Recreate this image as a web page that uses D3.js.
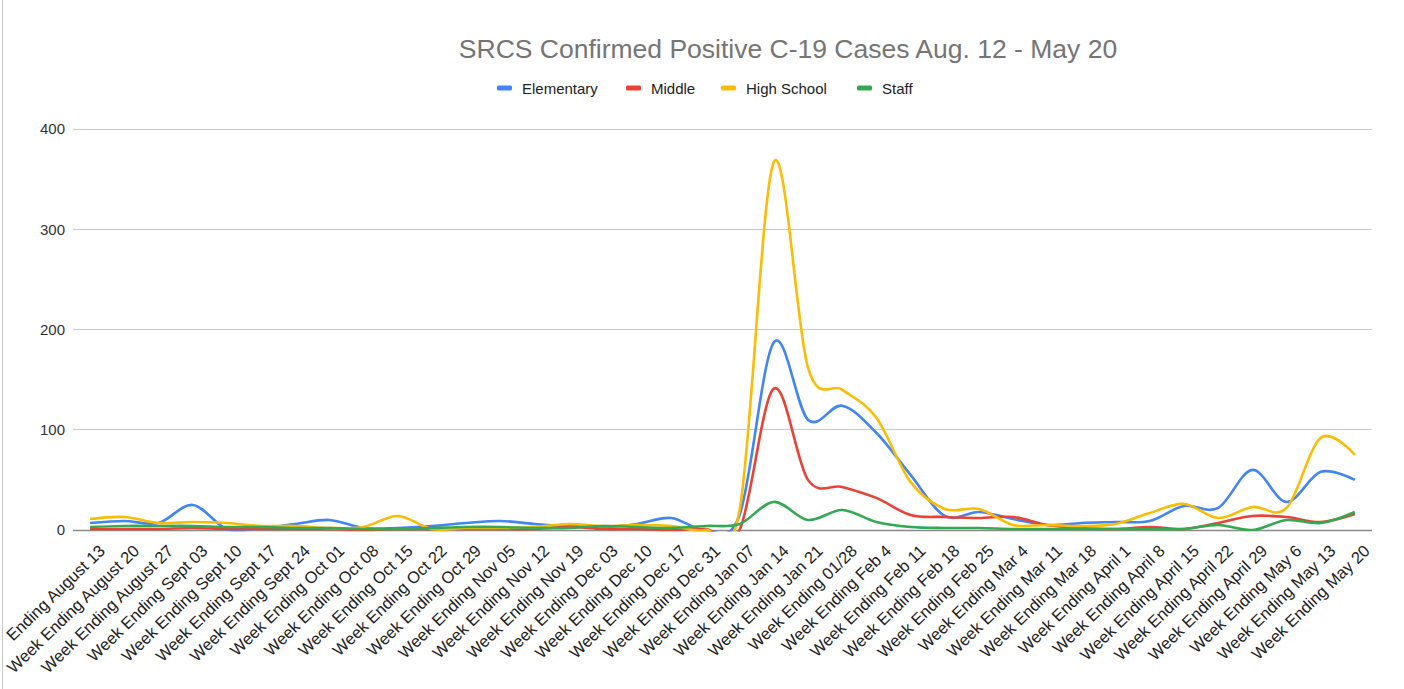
<!DOCTYPE html>
<head>
  <meta charset="utf-8">
  <script src="https://d3js.org/d3.v7.min.js"></script>
  <style>
body { margin:0; background:#fff; }
text { font-family: "Liberation Sans", Arial, sans-serif; }
.title { font-size: 26.5px; fill: #757575; }
.legend text { font-size: 15px; fill: #222; }
.ytick { font-size: 15px; fill: #333; }
.xtick { font-size: 16.5px; fill: #222; }
.grid { stroke: #ccc; stroke-width: 1; shape-rendering: crispEdges; }
.series { fill: none; stroke-width: 2.6; stroke-linejoin: round; }
  </style>
</head>
<body>
<script>
const weeks = ['Ending August 13', 'Week Ending August 20', 'Week Ending August 27', 'Week Ending Sept 03',
  'Week Ending Sept 10', 'Week Ending Sept 17', 'Week Ending Sept 24', 'Week Ending Oct 01',
  'Week Ending Oct 08', 'Week Ending Oct 15', 'Week Ending Oct 22', 'Week Ending Oct 29',
  'Week Ending Nov 05', 'Week Ending Nov 12', 'Week Ending Nov 19', 'Week Ending Dec 03',
  'Week Ending Dec 10', 'Week Ending Dec 17', 'Week Ending Dec 31', 'Week Ending Jan 07',
  'Week Ending Jan 14', 'Week Ending Jan 21', 'Week Ending 01/28', 'Week Ending Feb 4',
  'Week Ending Feb 11', 'Week Ending Feb 18', 'Week Ending Feb 25', 'Week Ending Mar 4',
  'Week Ending Mar 11', 'Week Ending Mar 18', 'Week Ending April 1', 'Week Ending April 8',
  'Week Ending April 15', 'Week Ending April 22', 'Week Ending April 29', 'Week Ending May 6',
  'Week Ending May 13', 'Week Ending May 20']

const elementary = [7, 9, 7, 25, 1, 2, 6, 10, 2, 2, 4, 7, 9, 6, 4, 3, 6, 12, 0, 15,
  187, 110, 124, 97, 55, 14, 18, 11, 5, 7, 8, 9, 24, 22, 60, 28, 58, 50]
const middle = [1, 1, 1, 2, 1, 1, 1, 1, 0, 1, 1, 1, 1, 1, 3, 1, 1, 0, 1, 0,
  141, 50, 43, 32, 15, 13, 12, 13, 5, 2, 1, 3, 1, 7, 14, 13, 8, 16]
const highSchool = [11, 13, 7, 8, 7, 4, 4, 2, 3, 14, 1, 2, 2, 3, 6, 4, 5, 4, 0, 20,
  367, 162, 140, 112, 48, 21, 21, 5, 5, 4, 6, 17, 26, 12, 23, 22, 92, 75]
const staff = [3, 4, 4, 4, 3, 3, 2, 2, 1, 1, 2, 3, 3, 2, 2, 4, 3, 2, 4, 6,
  28, 10, 20, 8, 3, 2, 2, 1, 1, 1, 1, 1, 1, 5, 0, 10, 7, 18]

const seriesNames = ['Elementary', 'Middle', 'High School', 'Staff']
const seriesColors = ['#4285f4', '#ea4335', '#fbbc04', '#34a853']
const seriesValues = [elementary, middle, highSchool, staff]
const yTicks = [0, 100, 200, 300, 400]

const fullWidth = 1404
const fullHeight = 689
const margin = { top: 129, right: 32, bottom: 159, left: 73 }
const width = fullWidth - margin.left - margin.right
const height = fullHeight - margin.top - margin.bottom

const svg = d3.select('body').append('svg')
  .attr('width', fullWidth)
  .attr('height', fullHeight)

// thin frame line on the left edge of the screenshot
svg.append('line')
  .attr('x1', 2.5).attr('x2', 2.5).attr('y1', 0).attr('y2', fullHeight)
  .attr('stroke', '#c8c8c8')

svg.append('text')
  .attr('class', 'title')
  .attr('x', 788)
  .attr('y', 58)
  .attr('text-anchor', 'middle')
  .text('SRCS Confirmed Positive C-19 Cases Aug. 12 - May 20')

const legend = svg.append('g').attr('class', 'legend')
const legendX = [497, 626, 721, 857]
seriesNames.forEach((name, i) => {
  const item = legend.append('g').attr('transform', `translate(${legendX[i]},88)`)
  item.append('rect').attr('x', 0).attr('y', -2.5).attr('width', 15).attr('height', 5)
    .attr('rx', 1.5).attr('fill', seriesColors[i])
  item.append('text').attr('x', 25).attr('y', 5.5).text(name)
})

const g = svg.append('g').attr('transform', `translate(${margin.left},${margin.top})`)

const x = d3.scalePoint().domain(weeks).range([0, width]).padding(0.5)
const y = d3.scaleLinear().domain([0, 400]).range([height, 0])

g.selectAll('.grid').data(yTicks.filter(d => d > 0)).enter().append('line')
  .attr('class', 'grid')
  .attr('x1', 0).attr('x2', width)
  .attr('y1', d => y(d)).attr('y2', d => y(d))

g.selectAll('.ytick').data(yTicks).enter().append('text')
  .attr('class', 'ytick')
  .attr('x', -8)
  .attr('y', d => y(d))
  .attr('dy', '0.36em')
  .attr('text-anchor', 'end')
  .text(d => d)

g.append('clipPath').attr('id', 'plot')
  .append('rect').attr('x', -5).attr('y', -5).attr('width', width + 10).attr('height', height + 6.5)

const line = d3.line()
  .x((d, i) => x(weeks[i]))
  .y(d => y(d))
  .curve(d3.curveCardinal.tension(0))

g.append('line')
  .attr('x1', 0).attr('x2', width)
  .attr('y1', height + 0.5).attr('y2', height + 0.5)
  .attr('stroke', '#8a8a8a').attr('stroke-width', 1.5)

g.selectAll('.series').data(seriesValues).enter().append('path')
  .attr('class', 'series')
  .attr('clip-path', 'url(#plot)')
  .attr('stroke', (d, i) => seriesColors[i])
  .attr('d', line)

g.selectAll('.xtick').data(weeks).enter().append('text')
  .attr('class', 'xtick')
  .attr('text-anchor', 'end')
  .attr('transform', d => `translate(${x(d) + 16},${height + 22}) rotate(-44)`)
  .text(d => d)
</script>
</body>
